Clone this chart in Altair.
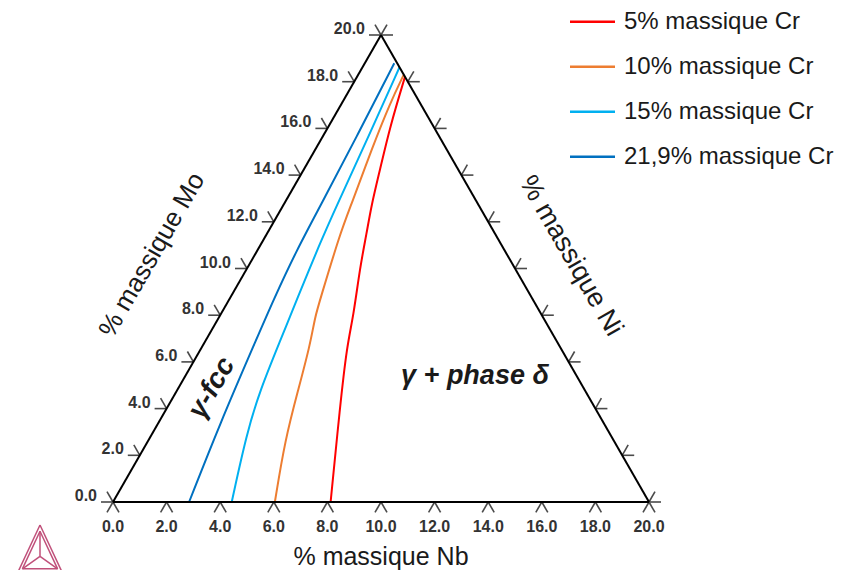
import altair as alt
import pandas as pd

# ---------------- data (wt% Mo, wt% Nb) ----------------
SERIES = ["5% massique Cr", "10% massique Cr", "15% massique Cr", "21,9% massique Cr"]
COLORS = ["#FF0000", "#ED7D31", "#00B0F0", "#0070C0"]

MO_05 = [0.0, 4.08, 6.7, 7.94, 10.08, 11.51, 12.7, 14.22, 16.07, 18.21]
NB_05 = [8.12, 6.43, 5.38, 5.00, 4.18, 3.71, 3.29, 2.85, 2.30, 1.79]

MO_10 = [0.0, 2.66, 4.80, 6.7, 7.94, 8.65, 11.51, 12.7, 15.22, 17.07, 18.29]
NB_10 = [6.04, 5.09, 4.51, 4.00, 3.57, 3.40, 2.72, 2.53, 2.08, 1.80, 1.70]

MO_15 = [0.0, 2.94, 4.80, 6.94, 8.65, 11.08, 12.7, 15.64, 18.62]
NB_15 = [4.43, 3.52, 3.09, 2.78, 2.53, 2.18, 2.00, 1.71, 1.38]

MO_22 = [0.0, 3.37, 6.94, 8.65, 10.79, 12.6, 15.64, 18.79]
NB_22 = [2.84, 2.31, 1.87, 1.66, 1.46, 1.40, 1.27, 1.10]

TICKS = [0, 2, 4, 6, 8, 10, 12, 14, 16, 18, 20]
TICK_LABELS = ["0.0", "2.0", "4.0", "6.0", "8.0", "10.0", "12.0", "14.0", "16.0", "18.0", "20.0"]

TITLE_NB = "% massique Nb"
TITLE_MO = "% massique Mo"
TITLE_NI = "% massique Ni"
REGION_FCC = "γ-fcc"
REGION_DELTA = "γ + phase δ"

# ---------------- layout ----------------
W, H = 832, 562            # whole view (page minus 8px margin)
OX, OY = 105, 494          # triangle origin (Nb=0, Mo=0) inside the view, px
PX_X = 26.8                # px per wt% along the base
PX_Y = 23.35               # px per wt% Mo vertically
FONT = "Liberation Sans"

x_dom = [-OX / PX_X, (W - OX) / PX_X]
y_dom = [(OY - H) / PX_Y, OY / PX_Y]
xs = alt.Scale(domain=x_dom, nice=False, zero=False)
ys = alt.Scale(domain=y_dom, nice=False, zero=False)


def px2x(px):  # page pixel -> data x
    return (px - 8 - OX) / PX_X


def py2y(py):  # page pixel -> data y
    return (OY - (py - 8)) / PX_Y


def X(f="x"):
    return alt.X(f"{f}:Q", scale=xs, axis=None)


def Y(f="y"):
    return alt.Y(f"{f}:Q", scale=ys, axis=None)


color_enc = alt.Color("serie:N", scale=alt.Scale(domain=SERIES, range=COLORS), legend=None)

# ---------------- curves ----------------
rows = []
for name, mo, nb in [(SERIES[0], MO_05, NB_05), (SERIES[1], MO_10, NB_10),
                     (SERIES[2], MO_15, NB_15), (SERIES[3], MO_22, NB_22)]:
    for i, (m, n) in enumerate(zip(mo, nb)):
        rows.append(dict(serie=name, i=i, x=n + m / 2, y=m))
curves_df = pd.DataFrame(rows)

curves = alt.Chart(curves_df).mark_line(strokeWidth=2, interpolate="basis").encode(
    x=X(), y=Y(), color=color_enc, detail="serie:N", order="i:Q"
)

# ---------------- triangle frame ----------------
corners = [(0, 0), (20, 0), (0, 20)]  # (Nb, Mo)
edges = []
for (a, b) in [(0, 1), (1, 2), (2, 0)]:
    n1, m1 = corners[a]
    n2, m2 = corners[b]
    edges.append(dict(x=n1 + m1 / 2, y=m1, x2=n2 + m2 / 2, y2=m2))
frame = alt.Chart(pd.DataFrame(edges)).mark_rule(color="black", strokeWidth=2).encode(
    x=X(), y=Y(), x2="x2:Q", y2="y2:Q"
)

# ---------------- ticks ----------------
L = 12.0
c, s = 0.5 * L, 0.866 * L
trows = []
for v in TICKS:
    pts = [
        ((v, 0), [(-c, s), (c, s)]),               # base (Nb)
        ((v / 2, v), [(-L, 0), (-c, -s)]),         # left (Mo)
        ((20 - v / 2, v), [(L, 0), (c, -s)]),      # right (Ni)
    ]
    for (bx, by), legs in pts:
        for dxp, dyp in legs:
            trows.append(dict(x=bx, y=by, x2=bx + dxp / PX_X, y2=by - dyp / PX_Y))
ticks = alt.Chart(pd.DataFrame(trows)).mark_rule(color="#4a4a4a", strokeWidth=1.6).encode(
    x=X(), y=Y(), x2="x2:Q", y2="y2:Q"
)

bottom_lab = pd.DataFrame({"x": TICKS, "y": [0] * len(TICKS), "t": TICK_LABELS})
left_lab = pd.DataFrame({"x": [v / 2 for v in TICKS], "y": TICKS, "t": TICK_LABELS})

lab_style = dict(font=FONT, fontSize=16, fontWeight="bold", color="#333333")
bottom_labels = alt.Chart(bottom_lab).mark_text(align="center", baseline="middle", dy=25, **lab_style).encode(
    x=X(), y=Y(), text="t:N"
)
left_labels = alt.Chart(left_lab).mark_text(align="right", baseline="middle", dx=-16, dy=-6, **lab_style).encode(
    x=X(), y=Y(), text="t:N"
)

# ---------------- legend ----------------
leg = pd.DataFrame({
    "serie": SERIES,
    "x": [px2x(570)] * 4,
    "x2": [px2x(615)] * 4,
    "xt": [px2x(624)] * 4,
    "y": [py2y(21.7 + 45 * i) for i in range(4)],
})
legend_lines = alt.Chart(leg).mark_rule(strokeWidth=2.5).encode(
    x=X(), x2="x2:Q", y=Y(), color=color_enc
)
legend_text = alt.Chart(leg).mark_text(align="left", baseline="middle", font=FONT, fontSize=24,
                                       color="#1a1a1a").encode(
    x=X("xt"), y=Y(), text="serie:N"
)

# ---------------- titles / region labels ----------------
def txt(t, px, py, angle=0, size=26, weight="normal", style="normal"):
    df = pd.DataFrame({"t": [t], "x": [px2x(px)], "y": [py2y(py)]})
    return alt.Chart(df).mark_text(align="center", baseline="middle", font=FONT, fontSize=size,
                                   fontWeight=weight, fontStyle=style, angle=angle,
                                   color="#1a1a1a").encode(x=X(), y=Y(), text="t:N")


t_nb = txt(TITLE_NB, 381, 557, size=25)
t_mo = txt(TITLE_MO, 152, 255, angle=300)
t_ni = txt(TITLE_NI, 571, 256, angle=60, size=27)
r_fcc = txt(REGION_FCC, 212, 388, angle=300, size=28, weight="bold", style="italic")
r_delta = txt(REGION_DELTA, 475, 376, size=27, weight="bold", style="italic")

# ---------------- logo (decoration) ----------------
LOGO_APEX, LOGO_BL, LOGO_BR = (40, 525), (18, 572), (62, 572)
cx = (LOGO_APEX[0] + LOGO_BL[0] + LOGO_BR[0]) / 3
cy = (LOGO_APEX[1] + LOGO_BL[1] + LOGO_BR[1]) / 3
logo_rows = []
for k in (1.0, 0.8):
    pts = [(cx + (p[0] - cx) * k, cy + (p[1] - cy) * k) for p in (LOGO_APEX, LOGO_BL, LOGO_BR)]
    for a, b in [(0, 1), (1, 2), (2, 0)]:
        logo_rows.append(dict(x=px2x(pts[a][0]), y=py2y(pts[a][1]), x2=px2x(pts[b][0]), y2=py2y(pts[b][1])))
    if k == 0.8:
        for p in pts:
            logo_rows.append(dict(x=px2x(cx), y=py2y(cy), x2=px2x(p[0]), y2=py2y(p[1])))
logo = alt.Chart(pd.DataFrame(logo_rows)).mark_rule(color="#C0507A", strokeWidth=1.5).encode(
    x=X(), y=Y(), x2="x2:Q", y2="y2:Q"
)

chart = alt.layer(
    curves, ticks, frame, bottom_labels, left_labels, legend_lines, legend_text,
    t_nb, t_mo, t_ni, r_fcc, r_delta, logo
).properties(
    width=W, height=H, autosize=alt.AutoSizeParams(type="none"), padding=0
).configure_view(stroke=None)

chart.save("out.html", embed_options={"renderer": "svg", "actions": False})
